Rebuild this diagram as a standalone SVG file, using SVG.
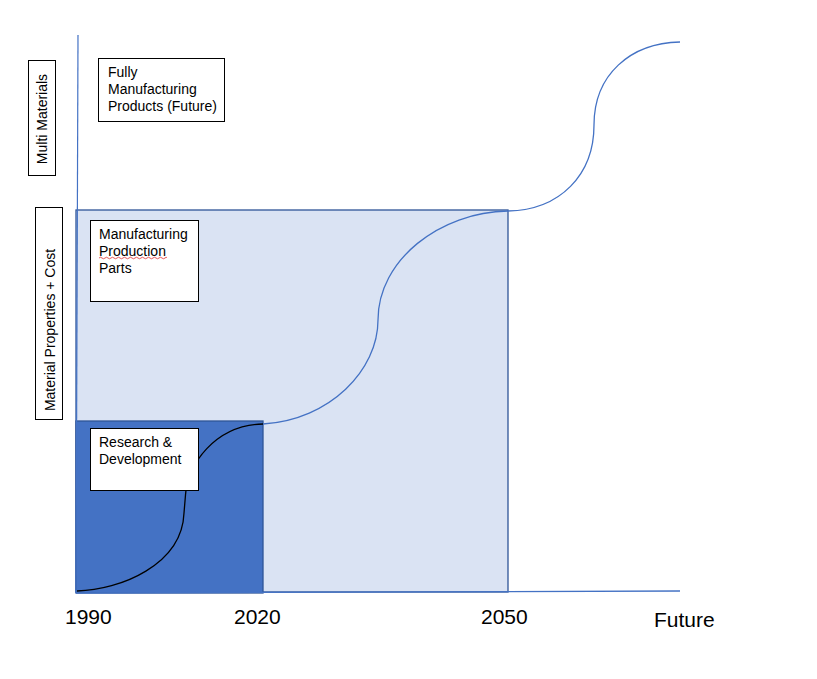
<svg xmlns="http://www.w3.org/2000/svg" width="817" height="679" viewBox="0 0 817 679">
<style>
.lbl{font-family:"Liberation Sans",Arial,sans-serif;font-size:14px;fill:#000}
.ax{font-family:"Liberation Sans",Arial,sans-serif;font-size:21px;fill:#000}
.box{fill:#fff;stroke:#000;stroke-width:1}
.curve{fill:none;stroke:#4472C4;stroke-width:1.3}
</style>
<rect width="817" height="679" fill="#fff"/>
<g id="region-light"><rect x="76" y="210" width="432" height="382" fill="#DAE3F3" stroke="#2F5597" stroke-width="1.3"/></g>
<g id="region-dark"><rect x="76" y="421" width="187" height="172" fill="#4472C4" stroke="#2F5597" stroke-width="1.3"/></g>
<g id="connectors">
<line x1="78" y1="35" x2="76" y2="593" stroke="#4472C4" stroke-width="1.2"/>
<line x1="76" y1="593" x2="680" y2="591" stroke="#4472C4" stroke-width="1.3"/>
<path class="curve" d="M263,424 C330,420 378,370 378,320 C378,260 440,212 508,211"/>
<path class="curve" d="M508,211 C560,210 594,175 594,125 C594,75 630,43 680,42"/>
<path fill="none" stroke="#000" stroke-width="1.3" d="M77,591 C120,590 182,565 184,513 L185.5,495 C187,465 215,425 263,424"/>
</g>
<g id="label-multi">
<rect class="box" x="28.5" y="60.5" width="27" height="115"/>
<text class="lbl" text-anchor="middle" transform="translate(47,119) rotate(-90)">Multi Materials</text>
</g>
<g id="label-props">
<rect class="box" x="35.5" y="207.5" width="27" height="212"/>
<text class="lbl" text-anchor="middle" transform="translate(55,330) rotate(-90)">Material Properties + Cost</text>
</g>
<g id="node-fully">
<rect class="box" x="98.5" y="58.5" width="126" height="63"/>
<text class="lbl" x="108" y="77">Fully</text>
<text class="lbl" x="108" y="94">Manufacturing</text>
<text class="lbl" x="108" y="111">Products (Future)</text>
</g>
<g id="node-production">
<rect class="box" x="90.5" y="220.5" width="108" height="81"/>
<text class="lbl" x="99" y="239">Manufacturing</text>
<text class="lbl" x="99" y="256">Production</text>
<text class="lbl" x="99" y="273">Parts</text>
<path d="M99,258 q1.5,-1.5 3,0 t3,0 t3,0 t3,0 t3,0 t3,0 t3,0 t3,0 t3,0 t3,0 t3,0 t3,0 t3,0 t3,0 t3,0 t3,0 t3,0 t3,0 t3,0 t3,0 t3,0 t3,0 t2,0" fill="none" stroke="#E03030" stroke-width="0.8"/>
</g>
<g id="node-research">
<rect class="box" x="90.5" y="428.5" width="108" height="62"/>
<text class="lbl" x="99" y="447">Research &amp;</text>
<text class="lbl" x="99" y="464">Development</text>
</g>
<g id="axis-labels">
<text class="ax" x="65" y="624">1990</text>
<text class="ax" x="234" y="624">2020</text>
<text class="ax" x="481" y="624">2050</text>
<text class="ax" x="654" y="627">Future</text>
</g>
</svg>
